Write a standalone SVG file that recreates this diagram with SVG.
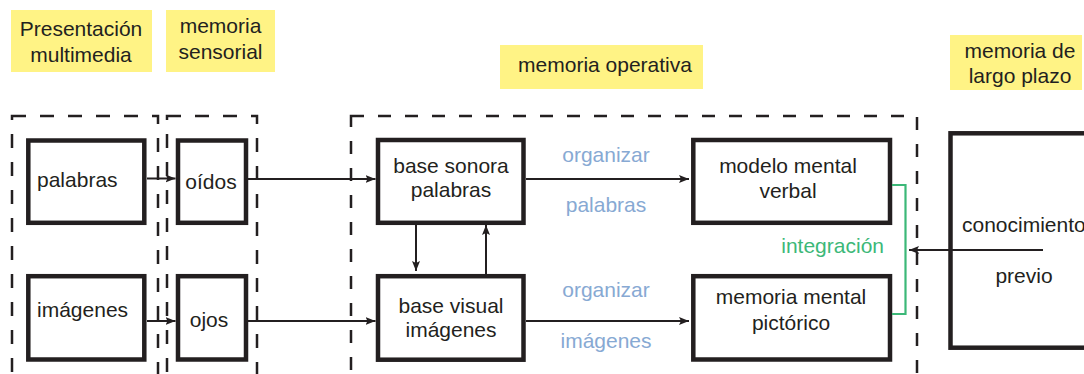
<svg xmlns="http://www.w3.org/2000/svg" width="1084" height="374" viewBox="0 0 1084 374">
<defs>
<style>
.lab{fill:#fff385}
.t{font-family:"Liberation Sans",Arial,sans-serif;font-size:21px;fill:#231f20}
.c{text-anchor:middle}
.blue{fill:#87a9d3}
.green{fill:#3cb878}
.node{fill:#fff;stroke:#231f20;stroke-width:4.5}
.dash{fill:none;stroke:#231f20;stroke-width:2.5;stroke-dasharray:14 14}
.arr{fill:none;stroke:#231f20;stroke-width:2;marker-end:url(#ah)}
</style>
<marker id="ah" markerUnits="userSpaceOnUse" markerWidth="12" markerHeight="10" refX="10" refY="4" orient="auto">
<path d="M0,0 L10,4 L0,8 L2,4 z" fill="#231f20"/>
</marker>
</defs>
<rect width="1084" height="374" fill="#fff"/>
<g id="labels">
<rect class="lab" x="11" y="10" width="141" height="62"/>
<text class="t c" x="81" y="36">Presentación</text>
<text class="t c" x="81" y="62">multimedia</text>
<rect class="lab" x="166" y="10" width="109" height="62"/>
<text class="t c" x="220.5" y="33">memoria</text>
<text class="t c" x="220.5" y="59">sensorial</text>
<rect class="lab" x="500" y="45" width="203" height="44"/>
<text class="t c" x="605" y="72">memoria operativa</text>
<rect class="lab" x="950" y="35" width="132" height="55"/>
<text class="t c" x="1020" y="58">memoria de</text>
<text class="t c" x="1020" y="83">largo plazo</text>
</g>
<g id="regions">
<rect class="dash" x="12" y="116" width="146" height="290"/>
<rect class="dash" x="167" y="116" width="90" height="290"/>
<rect class="dash" x="351" y="116" width="566" height="290" style="stroke-dasharray:13 14"/>
</g>
<g id="n-palabras"><rect class="node" x="28.3" y="140.5" width="116" height="82.3"/><text class="t" x="37" y="187">palabras</text></g>
<g id="n-imagenes"><rect class="node" x="28.3" y="276.2" width="116" height="83.3"/><text class="t" x="37" y="317">imágenes</text></g>
<g id="n-oidos"><rect class="node" x="178" y="140.5" width="68" height="82.3"/><text class="t c" x="211" y="189">oídos</text></g>
<g id="n-ojos"><rect class="node" x="178" y="276.2" width="68" height="83.3"/><text class="t c" x="209" y="327">ojos</text></g>
<g id="n-sonora"><rect class="node" x="378" y="140" width="145.5" height="82.8"/><text class="t c" x="451" y="173">base sonora</text><text class="t c" x="451" y="197">palabras</text></g>
<g id="n-visual"><rect class="node" x="378" y="276.2" width="145.5" height="83.5"/><text class="t c" x="451" y="313">base visual</text><text class="t c" x="451" y="337">imágenes</text></g>
<g id="n-verbal"><rect class="node" x="693.3" y="140" width="196.7" height="82.8"/><text class="t c" x="788" y="173">modelo mental</text><text class="t c" x="788" y="198">verbal</text></g>
<g id="n-pictorico"><rect class="node" x="693.3" y="276.2" width="196.7" height="83.3"/><text class="t c" x="791" y="304">memoria mental</text><text class="t c" x="791" y="330">pictórico</text></g>
<g id="n-previo"><rect class="node" x="950.5" y="133.3" width="160" height="214.4"/><text class="t" x="962" y="232">conocimiento</text><text class="t c" x="1024" y="283">previo</text></g>
<g id="connectors">
<line class="arr" x1="147" y1="178.5" x2="175.5" y2="178.5"/>
<line class="arr" x1="147" y1="321" x2="175.5" y2="321"/>
<line class="arr" x1="248" y1="179" x2="375.5" y2="179"/>
<line class="arr" x1="248" y1="321" x2="375.5" y2="321"/>
<line class="arr" x1="416" y1="225" x2="416" y2="271"/>
<line class="arr" x1="486" y1="274" x2="486" y2="225"/>
<line class="arr" x1="526" y1="179" x2="689" y2="179"/>
<line class="arr" x1="526" y1="321" x2="689" y2="321"/>
<polyline points="892,185 905.5,185 905.5,314 892,314" fill="none" stroke="#3cb878" stroke-width="2.2"/>
<line class="arr" x1="1043" y1="250" x2="909" y2="250"/>
<text class="t blue c" x="606" y="162">organizar</text>
<text class="t blue c" x="606" y="212">palabras</text>
<text class="t blue c" x="606" y="297">organizar</text>
<text class="t blue c" x="606" y="348">imágenes</text>
<text class="t green" x="884" y="253" text-anchor="end">integración</text>
</g>
</svg>
